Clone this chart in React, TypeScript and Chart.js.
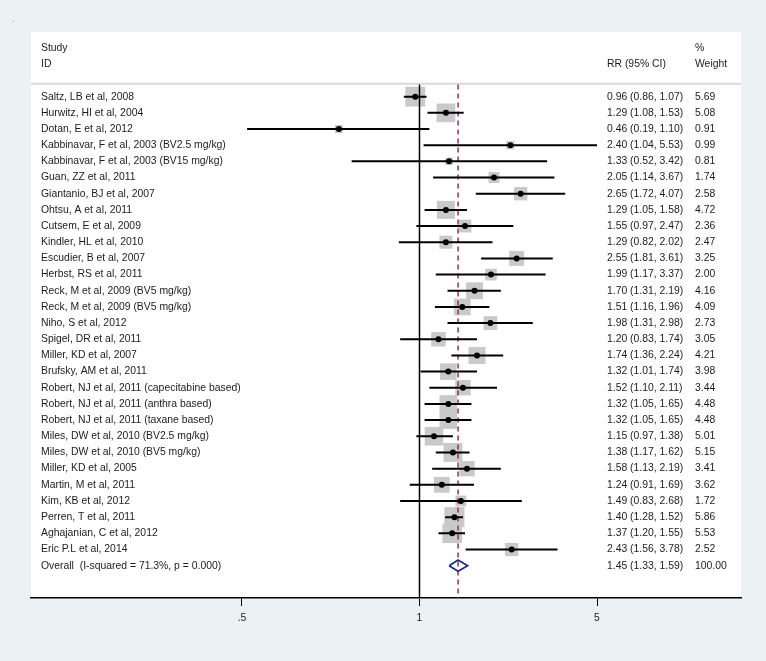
import React, { useEffect, useRef } from "react";
import { Chart, registerables } from "chart.js";

Chart.register(...registerables);

const STUDIES = [
  "Saltz, LB et al, 2008",
  "Hurwitz, HI et al, 2004",
  "Dotan, E et al, 2012",
  "Kabbinavar, F et al, 2003 (BV2.5 mg/kg)",
  "Kabbinavar, F et al, 2003 (BV15 mg/kg)",
  "Guan, ZZ et al, 2011",
  "Giantanio, BJ et al, 2007",
  "Ohtsu, A et al, 2011",
  "Cutsem, E et al, 2009",
  "Kindler, HL et al, 2010",
  "Escudier, B et al, 2007",
  "Herbst, RS et al, 2011",
  "Reck, M et al, 2009 (BV5 mg/kg)",
  "Reck, M et al, 2009 (BV5 mg/kg)",
  "Niho, S et al, 2012",
  "Spigel, DR et al, 2011",
  "Miller, KD et al, 2007",
  "Brufsky, AM et al, 2011",
  "Robert, NJ et al, 2011 (capecitabine based)",
  "Robert, NJ et al, 2011 (anthra based)",
  "Robert, NJ et al, 2011 (taxane based)",
  "Miles, DW et al, 2010 (BV2.5 mg/kg)",
  "Miles, DW et al, 2010 (BV5 mg/kg)",
  "Miller, KD et al, 2005",
  "Martin, M et al, 2011",
  "Kim, KB et al, 2012",
  "Perren, T et al, 2011",
  "Aghajanian, C et al, 2012",
  "Eric P.L et al, 2014",
];

const RR = [0.96, 1.29, 0.46, 2.40, 1.33, 2.05, 2.65, 1.29, 1.55, 1.29, 2.55, 1.99, 1.70, 1.51, 1.98, 1.20, 1.74, 1.32, 1.52, 1.32, 1.32, 1.15, 1.38, 1.58, 1.24, 1.49, 1.40, 1.37, 2.43];
const LOWER = [0.86, 1.08, 0.19, 1.04, 0.52, 1.14, 1.72, 1.05, 0.97, 0.82, 1.81, 1.17, 1.31, 1.16, 1.31, 0.83, 1.36, 1.01, 1.10, 1.05, 1.05, 0.97, 1.17, 1.13, 0.91, 0.83, 1.28, 1.20, 1.56];
const UPPER = [1.07, 1.53, 1.10, 5.53, 3.42, 3.67, 4.07, 1.58, 2.47, 2.02, 3.61, 3.37, 2.19, 1.96, 2.98, 1.74, 2.24, 1.74, 2.11, 1.65, 1.65, 1.38, 1.62, 2.19, 1.69, 2.68, 1.52, 1.55, 3.78];
const WEIGHT = [5.69, 5.08, 0.91, 0.99, 0.81, 1.74, 2.58, 4.72, 2.36, 2.47, 3.25, 2.00, 4.16, 4.09, 2.73, 3.05, 4.21, 3.98, 3.44, 4.48, 4.48, 5.01, 5.15, 3.41, 3.62, 1.72, 5.86, 5.53, 2.52];

const OVERALL_LABEL = "Overall  (I-squared = 71.3%, p = 0.000)";
const OVERALL_RR = 1.45;
const OVERALL_LOWER = 1.33;
const OVERALL_UPPER = 1.59;
const OVERALL_WEIGHT = 100.0;

const TICK_VALUES = [1 / 5.53, 1, 5.53];
const TICK_LABELS = [".5", "1", "5"];

const HEADER_LEFT = ["Study", "ID"];
const HEADER_RR = "RR (95% CI)";
const HEADER_W = ["%", "Weight"];

const X_MIN = -1.6255;
const X_MAX = 1.3452;
const Y_MIN = -4;
const Y_MAX = 31;

const FONT = '10.4px "Liberation Sans", Arial, Helvetica, sans-serif';
const TEXT_COLOR = "#1c1c1c";

const lg = (v: number) => Math.log10(v);
const f2 = (v: number) => v.toFixed(2);

const forestPlugin = {
  id: "forestText",
  beforeDraw(chart: any) {
    const { ctx, chartArea: a } = chart;
    ctx.save();
    ctx.fillStyle = "#EAF2F3";
    ctx.fillRect(0, 0, chart.width, chart.height);
    ctx.fillStyle = "#ffffff";
    ctx.fillRect(a.left, a.top, a.right - a.left, a.bottom - a.top);
    ctx.fillStyle = "#888";
    ctx.font = '9px "Liberation Sans", Arial, sans-serif';
    ctx.fillText(".", 12, 22);
    ctx.restore();
  },
  afterDatasetsDraw(chart: any) {
    const { ctx, chartArea: a } = chart;
    const y = chart.scales.y;
    const labelX = a.left + 10;
    const rrX = a.right - 134;
    const wX = a.right - 46;
    ctx.save();
    ctx.font = FONT;
    ctx.fillStyle = TEXT_COLOR;
    ctx.textBaseline = "middle";
    ctx.textAlign = "left";
    ctx.fillText(HEADER_LEFT[0], labelX, y.getPixelForValue(-3));
    ctx.fillText(HEADER_LEFT[1], labelX, y.getPixelForValue(-2));
    ctx.fillText(HEADER_W[0], wX, y.getPixelForValue(-3));
    ctx.fillText(HEADER_W[1], wX, y.getPixelForValue(-2));
    ctx.fillText(HEADER_RR, rrX, y.getPixelForValue(-2));
    STUDIES.forEach((s, i) => {
      const py = y.getPixelForValue(i);
      ctx.fillText(s, labelX, py);
      ctx.fillText(`${f2(RR[i])} (${f2(LOWER[i])}, ${f2(UPPER[i])})`, rrX, py);
      ctx.fillText(f2(WEIGHT[i]), wX, py);
    });
    const oy = y.getPixelForValue(STUDIES.length);
    ctx.fillText(OVERALL_LABEL, labelX, oy);
    ctx.fillText(`${f2(OVERALL_RR)} (${f2(OVERALL_LOWER)}, ${f2(OVERALL_UPPER)})`, rrX, oy);
    ctx.fillText(f2(OVERALL_WEIGHT), wX, oy);
    ctx.restore();
  },
};

export default function App() {
  const ref = useRef<HTMLCanvasElement | null>(null);

  useEffect(() => {
    if (!ref.current) return;
    const n = STUDIES.length;

    const squares = RR.map((v, i) => ({ x: lg(v), y: i }));
    const squareRadius = WEIGHT.map((w) => (8.3 * Math.sqrt(w)) / Math.SQRT2);
    const points = RR.map((v, i) => ({ x: lg(v), y: i }));
    const ci: any[] = [];
    LOWER.forEach((lo, i) => {
      ci.push({ x: lg(lo), y: i });
      ci.push({ x: lg(UPPER[i]), y: i });
      ci.push({ x: lg(lo), y: NaN });
    });
    const dh = 0.35;
    const diamond = [
      { x: lg(OVERALL_LOWER), y: n },
      { x: lg(OVERALL_RR), y: n - dh },
      { x: lg(OVERALL_UPPER), y: n },
      { x: lg(OVERALL_RR), y: n + dh },
      { x: lg(OVERALL_LOWER), y: n },
    ];
    const top = -0.75;

    const chart = new Chart(ref.current, {
      type: "scatter",
      data: {
        datasets: [
          {
            label: "separator",
            data: [
              { x: X_MIN, y: -0.8 },
              { x: X_MAX, y: -0.8 },
            ],
            showLine: true,
            borderColor: "#d9d9d9",
            borderWidth: 2,
            pointRadius: 0,
            order: 9,
          },
          {
            label: "weights",
            data: squares,
            pointStyle: "rect",
            pointRadius: squareRadius,
            backgroundColor: "#c9c9c9",
            borderWidth: 0,
            order: 8,
          },
          {
            label: "null",
            data: [
              { x: lg(1), y: top },
              { x: lg(1), y: Y_MAX },
            ],
            showLine: true,
            borderColor: "#000000",
            borderWidth: 1.5,
            pointRadius: 0,
            order: 6,
          },
          {
            label: "overall line",
            data: [
              { x: lg(OVERALL_RR), y: top },
              { x: lg(OVERALL_RR), y: Y_MAX },
            ],
            showLine: true,
            borderColor: "#9b3050",
            borderWidth: 1.5,
            borderDash: [5, 4],
            pointRadius: 0,
            order: 5,
          },
          {
            label: "ci",
            data: ci,
            showLine: true,
            spanGaps: false,
            borderColor: "#000000",
            borderWidth: 2,
            pointRadius: 0,
            order: 4,
          },
          {
            label: "estimates",
            data: points,
            pointStyle: "circle",
            pointRadius: 3,
            backgroundColor: "#000000",
            borderWidth: 0,
            order: 2,
          },
          {
            label: "diamond",
            data: diamond,
            showLine: true,
            borderColor: "#1c2a7c",
            borderWidth: 1.7,
            pointRadius: 0,
            fill: false,
            tension: 0,
            order: 1,
          },
        ] as any,
      },
      options: {
        animation: false,
        responsive: false,
        maintainAspectRatio: false,
        layout: { padding: { left: 31, right: 25, top: 32, bottom: 0 } },
        plugins: {
          legend: { display: false },
          tooltip: { enabled: false },
        },
        events: [],
        scales: {
          x: {
            type: "linear",
            min: X_MIN,
            max: X_MAX,
            afterBuildTicks: (scale: any) => {
              scale.ticks = TICK_VALUES.map((v) => ({ value: lg(v) }));
            },
            afterFit: (scale: any) => {
              scale.height = 63;
            },
            ticks: {
              autoSkip: false,
              maxRotation: 0,
              padding: 6,
              color: TEXT_COLOR,
              font: { family: '"Liberation Sans", Arial, Helvetica, sans-serif', size: 10.4 },
              callback: (_v: any, i: number) => TICK_LABELS[i],
            },
            grid: {
              display: true,
              drawOnChartArea: false,
              drawTicks: true,
              tickLength: 8,
              color: "#000000",
              lineWidth: 1,
            },
            border: { display: true, color: "#000000", width: 1.6 },
          },
          y: {
            type: "linear",
            min: Y_MIN,
            max: Y_MAX,
            reverse: true,
            display: false,
          },
        },
      } as any,
      plugins: [forestPlugin],
    });
    return () => chart.destroy();
  }, []);

  return (
    <div style={{ position: "fixed", left: 0, top: 0, width: 766, height: 661 }}>
      <canvas ref={ref} width={766} height={661} style={{ display: "block", width: 766, height: 661 }} />
    </div>
  );
}
